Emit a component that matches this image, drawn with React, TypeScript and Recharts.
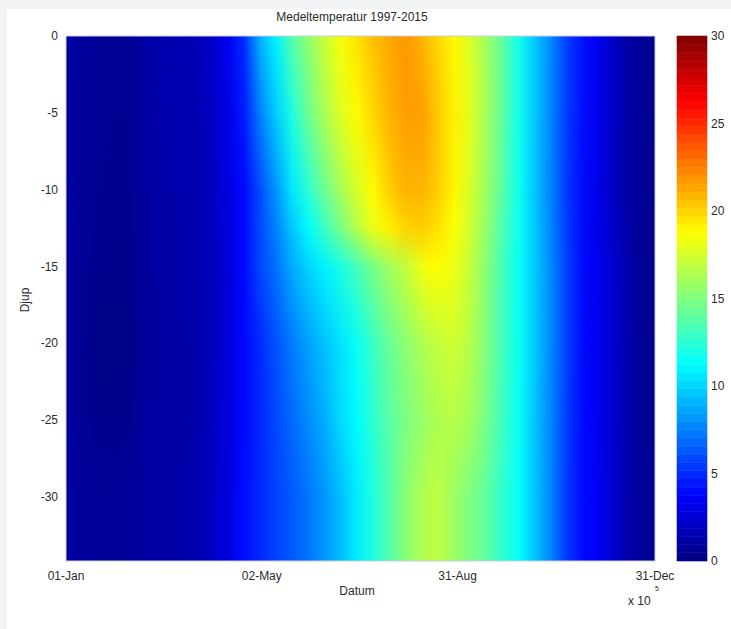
import { ScatterChart, Scatter, XAxis, YAxis, ReferenceArea } from 'recharts'

// sample days (columns) and depths (rows) of the mean temperature grid
const DAYS = [1, 11, 21, 31, 41, 51, 61, 71, 81, 91, 101, 111, 121, 131, 141, 151, 161, 171, 181, 191, 201, 211, 221, 231, 241, 251, 261, 271, 281, 291, 301, 311, 321, 331, 341, 351, 361, 365]
const DEPTHS = [0, -5, -10, -12.5, -15, -20, -25, -30]

// temperature (°C) per depth, one value per DAYS entry
const TEMP_0 = [1.1, 0.9, 0.7, 0.6, 0.6, 1.2, 1.4, 1.5, 1.6, 2.2, 3.3, 5.0, 9.0, 11.0, 13.8, 15.5, 17.2, 18.5, 19.6, 20.6, 21.3, 21.8, 21.0, 19.9, 18.9, 17.6, 16.0, 14.0, 11.8, 9.6, 7.7, 5.5, 4.2, 3.1, 1.9, 0.9, 0.5, 0.5]
const TEMP_5 = [1.0, 0.8, 0.6, 0.5, 0.5, 1.1, 1.3, 1.4, 1.5, 2.0, 3.0, 4.5, 7.5, 9.8, 12.2, 14.5, 16.3, 17.8, 18.9, 20.0, 21.0, 21.6, 21.6, 20.3, 19.2, 17.8, 16.0, 14.0, 11.8, 9.6, 7.6, 5.4, 4.1, 3.0, 1.9, 0.9, 0.5, 0.5]
const TEMP_10 = [1.0, 0.7, 0.5, 0.4, 0.5, 1.0, 1.2, 1.3, 1.4, 1.9, 2.8, 4.0, 6.0, 8.2, 10.6, 12.6, 14.5, 16.2, 17.6, 18.9, 20.2, 21.0, 21.0, 20.2, 19.0, 17.5, 15.8, 13.8, 11.6, 9.5, 7.5, 5.3, 4.0, 2.9, 1.8, 0.9, 0.5, 0.5]
const TEMP_12 = [1.0, 0.65, 0.45, 0.35, 0.45, 0.95, 1.15, 1.25, 1.4, 1.85, 2.7, 4.0, 5.9, 7.6, 9.6, 11.2, 13.0, 14.8, 16.6, 18.2, 19.2, 20.0, 20.2, 19.6, 18.6, 17.3, 15.5, 13.5, 11.6, 9.6, 7.6, 5.4, 4.0, 3.0, 1.95, 0.95, 0.5, 0.5]
const TEMP_15 = [1.0, 0.6, 0.4, 0.3, 0.4, 0.9, 1.1, 1.2, 1.4, 1.8, 2.6, 4.0, 5.8, 7.1, 8.8, 10.0, 10.9, 12.0, 13.3, 14.8, 16.0, 17.0, 18.3, 18.8, 18.2, 17.0, 15.2, 13.2, 11.5, 9.6, 7.7, 5.5, 4.0, 3.1, 2.1, 1.0, 0.5, 0.5]
const TEMP_20 = [1.0, 0.5, 0.2, 0.1, 0.3, 0.8, 1.0, 1.2, 1.3, 1.8, 2.6, 3.9, 5.0, 6.2, 7.4, 8.5, 9.5, 10.5, 11.5, 13.0, 14.3, 15.4, 16.3, 17.0, 17.3, 16.5, 15.0, 13.2, 11.6, 9.6, 7.7, 5.5, 4.0, 3.1, 2.1, 1.0, 0.5, 0.5]
const TEMP_25 = [1.0, 0.6, 0.4, 0.3, 0.5, 0.9, 1.1, 1.2, 1.3, 1.9, 2.7, 4.0, 4.9, 5.9, 6.9, 7.9, 8.9, 10.2, 11.2, 12.6, 13.9, 14.9, 15.7, 16.4, 16.6, 16.0, 14.7, 13.0, 11.5, 9.5, 7.6, 5.4, 4.0, 3.2, 2.1, 1.0, 0.6, 0.6]
const TEMP_30 = [1.1, 0.8, 0.7, 0.7, 0.8, 1.0, 1.1, 1.2, 1.4, 2.0, 2.8, 4.1, 4.9, 5.7, 6.4, 7.2, 8.2, 9.4, 10.7, 12.2, 13.7, 15.3, 16.4, 16.8, 15.8, 14.9, 14.0, 12.6, 11.4, 9.5, 7.6, 5.3, 4.0, 3.3, 2.1, 1.0, 0.7, 0.7]

const X_TICKS = [1, 122, 243, 365]
const X_TICK_LABELS = ['01-Jan', '02-May', '31-Aug', '31-Dec']
const Y_TICKS = [-30, -25, -20, -15, -10, -5, 0]
const CBAR_TICKS = [0, 5, 10, 15, 20, 25, 30]

const PROFILES = [TEMP_0, TEMP_5, TEMP_10, TEMP_12, TEMP_15, TEMP_20, TEMP_25, TEMP_30]
const DAY_MIN = 1
const DAY_MAX = 365
const DEPTH_MIN = -34.2
const T_MAX = 30
const FONT = '"Liberation Sans", Arial, sans-serif'
const TEXT = '#2b2b2b'

// matlab style jet colormap
function jet(t: number) {
  const f = Math.max(0, Math.min(1, t / T_MAX))
  const c = (v: number) => Math.round(255 * Math.max(0, Math.min(1, v)))
  const r = c(1.5 - Math.abs(4 * f - 3))
  const g = c(1.5 - Math.abs(4 * f - 2))
  const b = c(1.5 - Math.abs(4 * f - 1))
  return `rgb(${r},${g},${b})`
}

// one strip between two sampled depths; the lower profile fades in (shading interp)
const strips = DEPTHS.map((d, r) => ({
  r,
  y1: d,
  y2: r === DEPTHS.length - 1 ? DEPTH_MIN : DEPTHS[r + 1],
  next: r === DEPTHS.length - 1 ? -1 : r + 1,
}))

const points = DEPTHS.flatMap((d) => DAYS.map((day) => ({ day, depth: d })))

const bands = Array.from({ length: 64 }, (_, i) => ({
  y1: (i * T_MAX) / 64,
  y2: ((i + 1) * T_MAX) / 64,
  fill: jet(((i + 0.5) * T_MAX) / 64),
}))

const tickStyle = { fontSize: 12, fill: TEXT, fontFamily: FONT }

function Defs() {
  return (
    <svg width={0} height={0} style={{ position: 'absolute' }}>
      <defs>
        {PROFILES.map((row, r) => (
          <linearGradient id={`row-${r}`} key={r} x1="0" y1="0" x2="1" y2="0">
            {row.map((t, c) => (
              <stop key={c} offset={(DAYS[c] - DAY_MIN) / (DAY_MAX - DAY_MIN)} stopColor={jet(t)} />
            ))}
          </linearGradient>
        ))}
        <linearGradient id="vfade" x1="0" y1="0" x2="0" y2="1">
          <stop offset="0" stopColor="#000" />
          <stop offset="1" stopColor="#fff" />
        </linearGradient>
        <mask id="fade" maskContentUnits="objectBoundingBox">
          <rect x="0" y="0" width="1" height="1" fill="url(#vfade)" />
        </mask>
      </defs>
    </svg>
  )
}

export default function App() {
  return (
    <div style={{ position: 'absolute', left: 0, top: 0, width: 731, height: 629, background: '#f2f3f5', fontFamily: FONT }}>
      <Defs />
      <div style={{ position: 'absolute', left: 7, top: 9, right: 0, bottom: 0, background: '#fff' }} />
      <div style={{ position: 'absolute', left: 0, top: 0 }}>
        <ScatterChart width={731} height={629} margin={{ top: 36, right: 76, bottom: 38, left: 16 }}>
          <XAxis
            type="number"
            dataKey="day"
            domain={[DAY_MIN, DAY_MAX]}
            ticks={X_TICKS}
            tickFormatter={(v: number) => X_TICK_LABELS[X_TICKS.indexOf(v)] ?? ''}
            tick={tickStyle}
            tickLine={false}
            axisLine={false}
            tickMargin={4}
            height={30}
            allowDataOverflow
          />
          <YAxis
            type="number"
            dataKey="depth"
            domain={[DEPTH_MIN, 0]}
            ticks={Y_TICKS}
            tick={tickStyle}
            tickLine={false}
            axisLine={false}
            width={50}
            allowDataOverflow
          />
          {strips.map((s) => (
            <ReferenceArea
              key={s.r}
              x1={DAY_MIN}
              x2={DAY_MAX}
              y1={s.y1}
              y2={s.y2}
              shape={(p: any) => {
                const h = s.next < 0 ? p.height : p.height + 1
                return (
                  <g>
                    <rect x={p.x} y={p.y} width={p.width} height={h} fill={`url(#row-${s.r})`} />
                    {s.next >= 0 && (
                      <rect x={p.x} y={p.y} width={p.width} height={h} fill={`url(#row-${s.next})`} mask="url(#fade)" />
                    )}
                  </g>
                )
              }}
            />
          ))}
          <ReferenceArea x1={DAY_MIN} x2={DAY_MAX} y1={DEPTH_MIN} y2={0} fill="none" stroke="#c9cde0" strokeWidth={1} />
          <Scatter data={points} isAnimationActive={false} shape={() => <g />} />
        </ScatterChart>
      </div>
      <div style={{ position: 'absolute', left: 670, top: 0 }}>
        <ScatterChart width={64} height={629} margin={{ top: 36, right: 0, bottom: 68, left: 7 }}>
          <XAxis type="number" dataKey="x" domain={[0, 1]} hide />
          <YAxis
            type="number"
            dataKey="t"
            orientation="right"
            domain={[0, T_MAX]}
            ticks={CBAR_TICKS}
            tick={tickStyle}
            tickLine={false}
            axisLine={false}
            tickSize={3}
            tickMargin={1}
            width={27}
          />
          {bands.map((b, i) => (
            <ReferenceArea key={i} x1={0} x2={1} y1={b.y1} y2={b.y2} fill={b.fill} fillOpacity={1} stroke={b.fill} strokeWidth={0.6} />
          ))}
          <Scatter data={[{ x: 0.5, t: 0 }]} isAnimationActive={false} shape={() => <g />} />
        </ScatterChart>
      </div>
      <div style={{ position: 'absolute', left: 0, width: 704, top: 10, textAlign: 'center', fontSize: 12, color: TEXT }}>
        Medeltemperatur 1997-2015
      </div>
      <div style={{ position: 'absolute', left: 0, width: 714, top: 584, textAlign: 'center', fontSize: 12, color: TEXT }}>
        Datum
      </div>
      <div
        style={{
          position: 'absolute',
          left: 25,
          top: 300,
          transform: 'translate(-50%, -50%) rotate(-90deg)',
          fontSize: 12,
          color: TEXT,
        }}
      >
        Djup
      </div>
      <div style={{ position: 'absolute', left: 628, top: 594, fontSize: 12, color: TEXT }}>
        x 10<span style={{ position: 'absolute', left: 27, top: -9, fontSize: 7 }}>5</span>
      </div>
    </div>
  )
}
